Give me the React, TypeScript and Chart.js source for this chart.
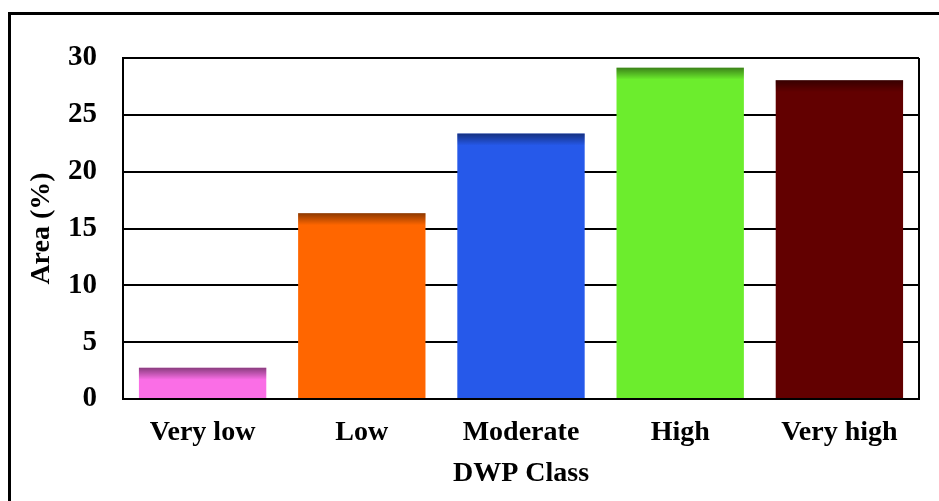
import React, { useEffect, useRef } from "react";
import { Chart, registerables } from "chart.js";

Chart.register(...registerables);

const categories = ["Very low", "Low", "Moderate", "High", "Very high"];
const areaPercent = [2.75, 16.35, 23.35, 29.15, 28.05];
const barColors = ["#fa6ee6", "#ff6600", "#2659ea", "#6ced2d", "#620000"];
const yTicks = [0, 5, 10, 15, 20, 25, 30];

const FONT = "'Liberation Serif', 'Times New Roman', serif";

const topShade = {
  id: "topShade",
  afterDatasetsDraw(chart: any) {
    const ctx = chart.ctx;
    const meta = chart.getDatasetMeta(0);
    meta.data.forEach((bar: any) => {
      const { x, y, width, base } = bar.getProps(["x", "y", "width", "base"], true);
      const left = x - width / 2;
      const h = Math.min(12, base - y);
      const g = ctx.createLinearGradient(0, y, 0, y + h);
      g.addColorStop(0, "rgba(0,0,0,0.45)");
      g.addColorStop(1, "rgba(0,0,0,0)");
      ctx.save();
      ctx.fillStyle = g;
      ctx.fillRect(left, y, width, h);
      ctx.restore();
    });
  },
};

const frameLines = {
  id: "frameLines",
  afterDraw(c: any) {
    const { ctx, chartArea } = c;
    ctx.save();
    ctx.strokeStyle = "#000";
    ctx.lineWidth = 2;
    ctx.beginPath();
    ctx.moveTo(chartArea.right, chartArea.top);
    ctx.lineTo(chartArea.right, chartArea.bottom);
    ctx.moveTo(chartArea.left, chartArea.top);
    ctx.lineTo(chartArea.right, chartArea.top);
    ctx.stroke();
    ctx.restore();
  },
};

export default function App() {
  const ref = useRef<HTMLCanvasElement | null>(null);
  useEffect(() => {
    if (!ref.current) return;
    const chart = new Chart(ref.current, {
      type: "bar",
      data: {
        labels: categories,
        datasets: [
          {
            data: areaPercent,
            backgroundColor: barColors,
            borderWidth: 0,
            barPercentage: 0.8,
            categoryPercentage: 1,
          },
        ],
      },
      plugins: [topShade, frameLines],
      options: {
        animation: false,
        responsive: false,
        layout: { padding: { left: 0, top: 58, right: 20, bottom: 0 } },
        plugins: { legend: { display: false }, tooltip: { enabled: false } },
        scales: {
          x: {
            grid: { display: false, drawTicks: false },
            border: { display: true, color: "#000", width: 2 },
            ticks: {
              color: "#000",
              padding: 17,
              font: { family: FONT, size: 28, weight: "bold" },
            },
            title: {
              display: true,
              text: "DWP Class",
              color: "#000",
              font: { family: FONT, size: 28, weight: "bold" },
              padding: { top: 0, bottom: 10 },
            },
            afterFit: (s: any) => {
              s.height = 102;
            },
          },
          y: {
            min: 0,
            max: 30,
            afterBuildTicks: (s: any) => {
              s.ticks = yTicks.map((v) => ({ value: v }));
            },
            grid: { color: "#000", lineWidth: 2, drawTicks: false },
            border: { display: true, color: "#000", width: 2 },
            ticks: {
              color: "#000",
              padding: 26,
              font: { family: FONT, size: 29, weight: "bold" },
            },
            title: {
              display: true,
              text: "Area (%)",
              color: "#000",
              font: { family: FONT, size: 28, weight: "bold" },
              padding: { top: 25, bottom: 0 },
            },
            afterFit: (s: any) => {
              s.width = 123;
            },
          },
        },
      },
    } as any);
    return () => chart.destroy();
  }, []);
  return (
    <div style={{ position: "fixed", left: 0, top: 0, width: 939, height: 501, overflow: "hidden", background: "#fff" }}>
      <div
        style={{
          position: "absolute",
          left: 8,
          top: 12,
          width: 1000,
          height: 600,
          border: "3px solid #000",
        }}
      />
      <canvas ref={ref} width={939} height={501} style={{ position: "absolute", left: 0, top: 0 }} />
    </div>
  );
}
